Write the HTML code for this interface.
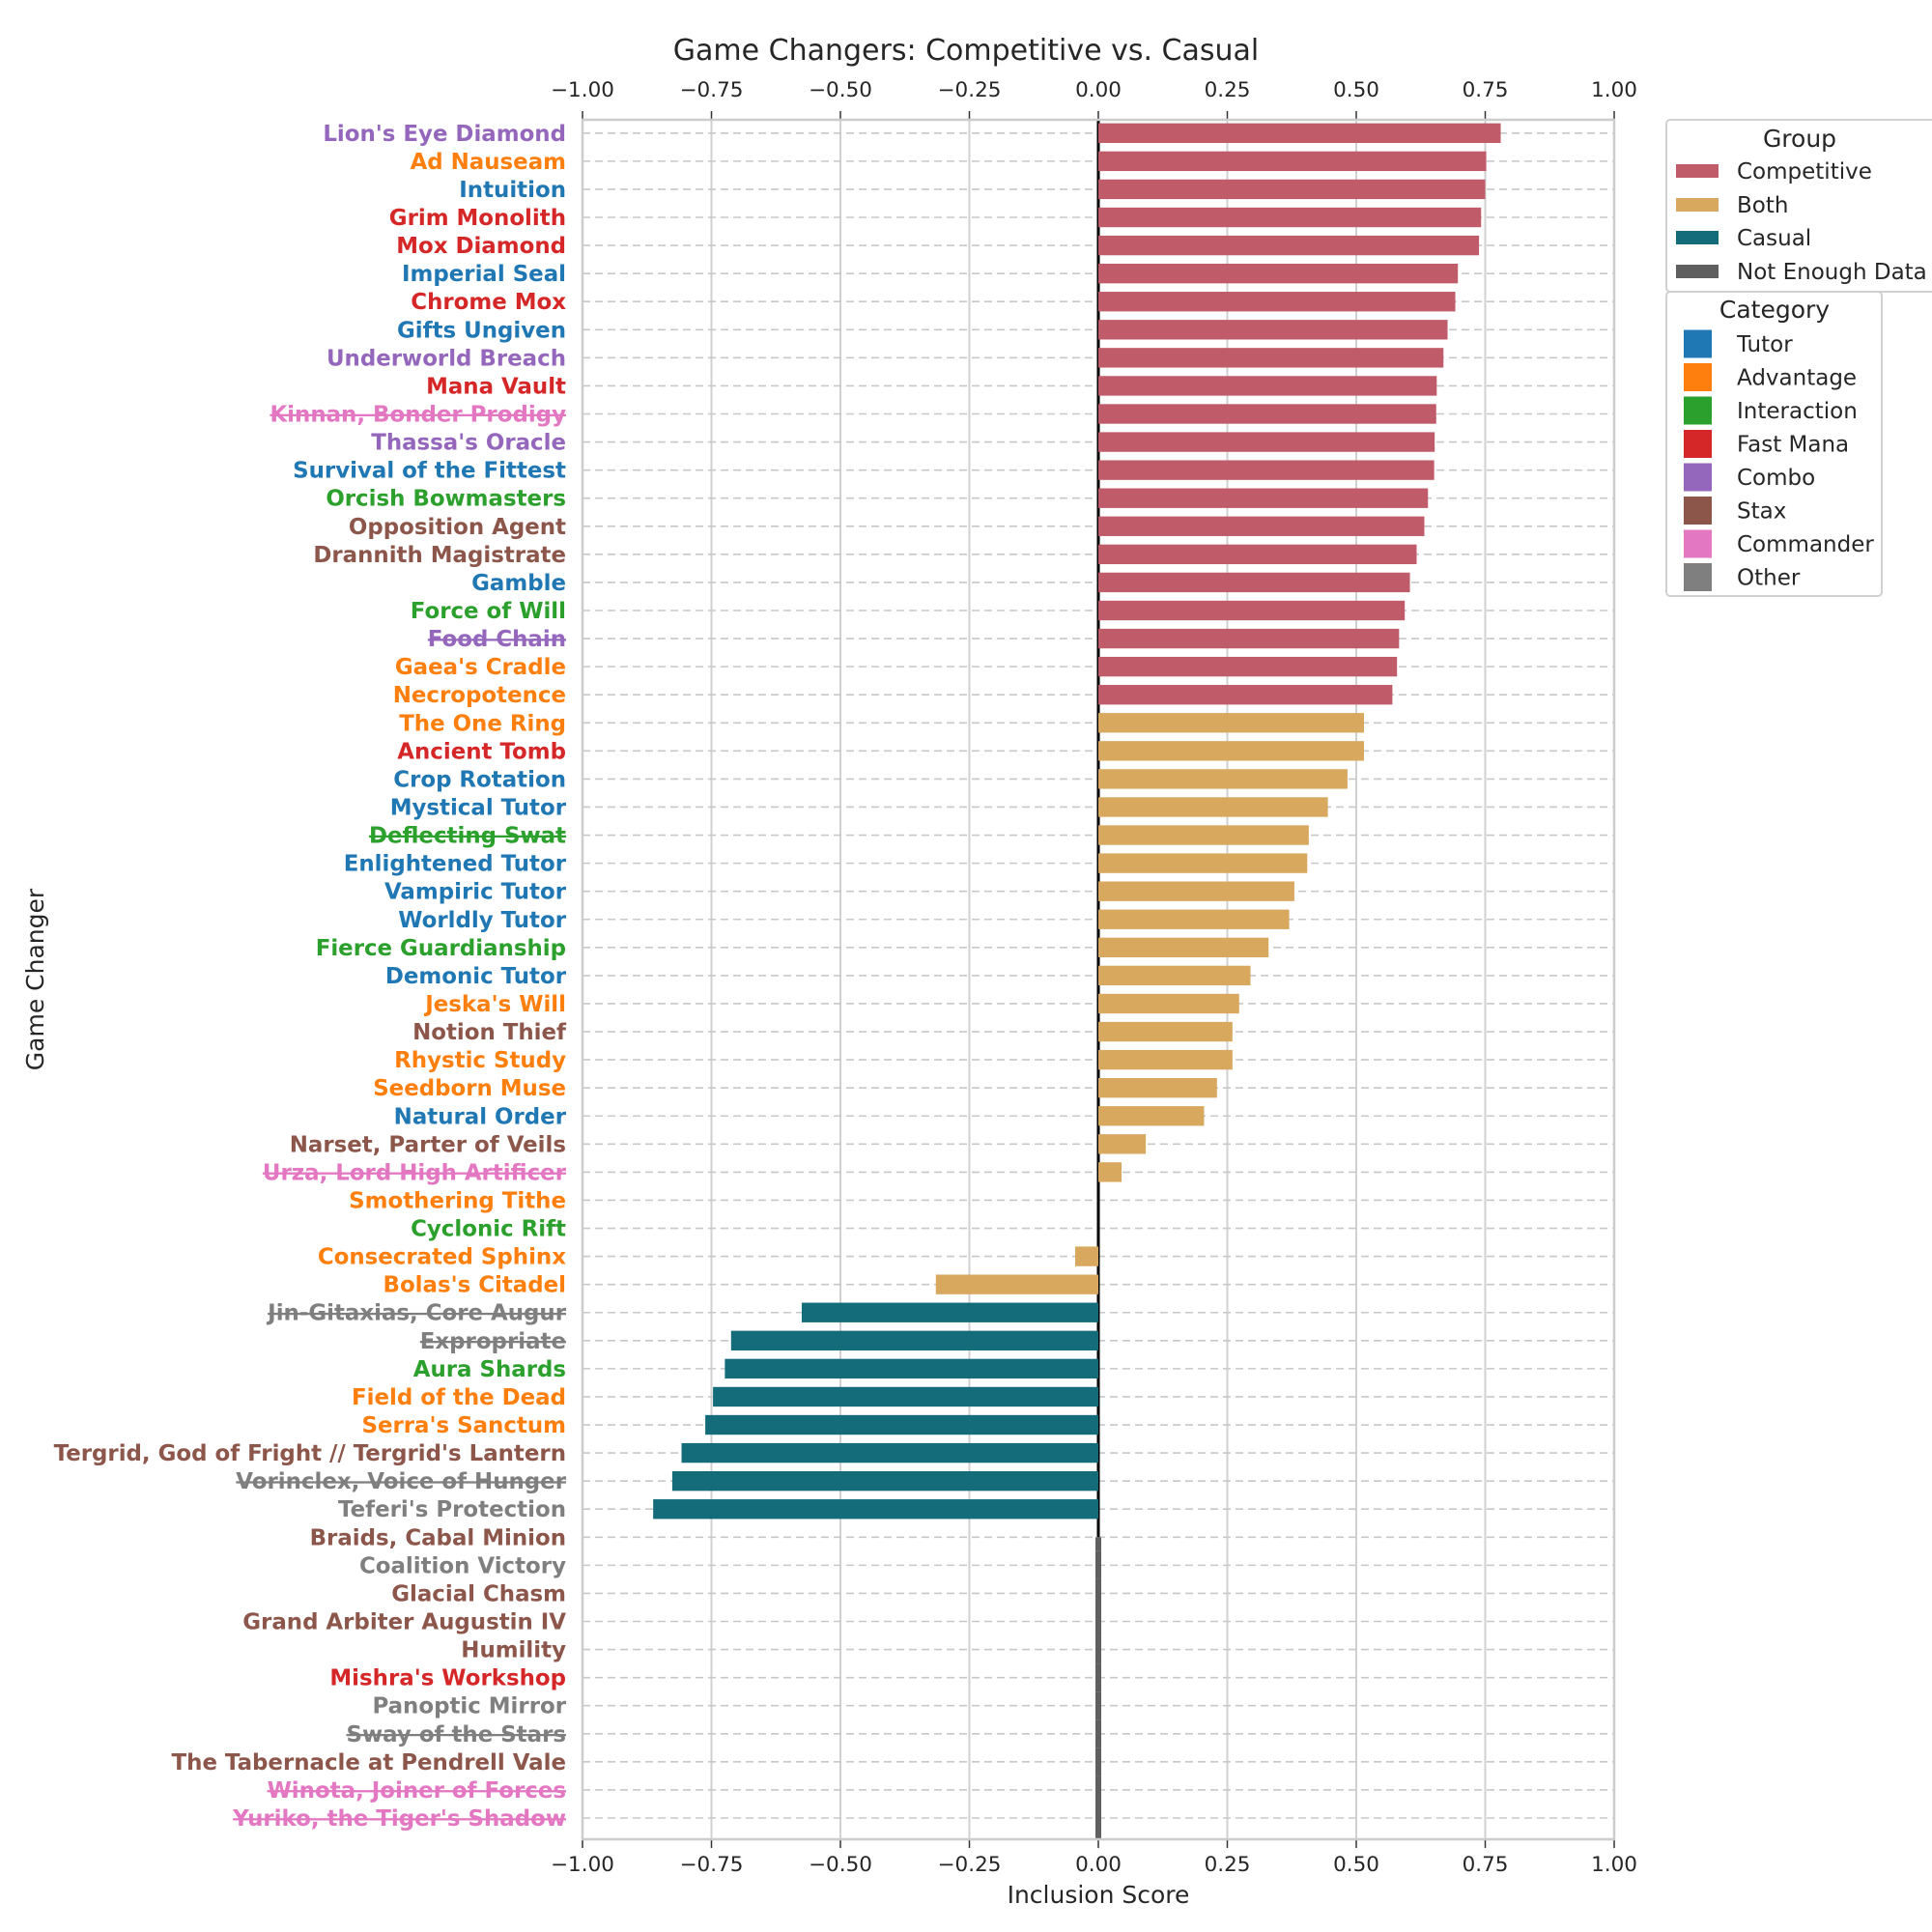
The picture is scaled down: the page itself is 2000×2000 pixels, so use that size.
<!DOCTYPE html>
<html><head><meta charset="utf-8"><style>
body{margin:0;background:#fff}
svg{display:block;font-family:"DejaVu Sans","Liberation Sans",sans-serif}
</style></head><body>
<svg id="chart" width="2000" height="2000" viewBox="0 0 2000 2000" xmlns="http://www.w3.org/2000/svg">
<rect width="2000" height="2000" fill="#fff"/>
<text x="1000" y="62" font-size="30" text-anchor="middle" fill="#262626">Game Changers: Competitive vs. Casual</text>
<text x="1137" y="1970" font-size="25" text-anchor="middle" fill="#262626">Inclusion Score</text>
<text x="0" y="0" font-size="25" text-anchor="middle" fill="#262626" transform="translate(45,1014) rotate(-90)">Game Changer</text>
<g id="plot"></g>
<g id="legend">
 <rect x="1725" y="124" width="300" height="178" rx="4" fill="#fff" stroke="#d0d0d0" stroke-width="2"/>
 <text x="1863" y="152" font-size="25" text-anchor="middle" fill="#262626">Group</text>
 <rect x="1735" y="170" width="44" height="14" fill="#c05b69"/>
 <text x="1798" y="185" font-size="23" fill="#262626">Competitive</text>
 <rect x="1735" y="205" width="44" height="14" fill="#d9a85f"/>
 <text x="1798" y="220" font-size="23" fill="#262626">Both</text>
 <rect x="1735" y="239" width="44" height="14" fill="#146c7a"/>
 <text x="1798" y="254" font-size="23" fill="#262626">Casual</text>
 <rect x="1735" y="274" width="44" height="14" fill="#5f5f5f"/>
 <text x="1798" y="289" font-size="23" fill="#262626">Not Enough Data</text>
 <rect x="1725" y="302" width="223" height="315" rx="4" fill="#fff" stroke="#d0d0d0" stroke-width="2"/>
 <text x="1837" y="329" font-size="25" text-anchor="middle" fill="#262626">Category</text>
 <g id="catleg"></g>
</g>
</svg>
<script>
const names=["Lion's Eye Diamond","Ad Nauseam","Intuition","Grim Monolith","Mox Diamond","Imperial Seal","Chrome Mox","Gifts Ungiven","Underworld Breach","Mana Vault","Kinnan, Bonder Prodigy","Thassa's Oracle","Survival of the Fittest","Orcish Bowmasters","Opposition Agent","Drannith Magistrate","Gamble","Force of Will","Food Chain","Gaea's Cradle","Necropotence","The One Ring","Ancient Tomb","Crop Rotation","Mystical Tutor","Deflecting Swat","Enlightened Tutor","Vampiric Tutor","Worldly Tutor","Fierce Guardianship","Demonic Tutor","Jeska's Will","Notion Thief","Rhystic Study","Seedborn Muse","Natural Order","Narset, Parter of Veils","Urza, Lord High Artificer","Smothering Tithe","Cyclonic Rift","Consecrated Sphinx","Bolas's Citadel","Jin-Gitaxias, Core Augur","Expropriate","Aura Shards","Field of the Dead","Serra's Sanctum","Tergrid, God of Fright // Tergrid's Lantern","Vorinclex, Voice of Hunger","Teferi's Protection","Braids, Cabal Minion","Coalition Victory","Glacial Chasm","Grand Arbiter Augustin IV","Humility","Mishra's Workshop","Panoptic Mirror","Sway of the Stars","The Tabernacle at Pendrell Vale","Winota, Joiner of Forces","Yuriko, the Tiger's Shadow"];
const scores=[0.78,0.752,0.75,0.742,0.738,0.697,0.692,0.677,0.669,0.656,0.655,0.652,0.651,0.639,0.632,0.617,0.604,0.594,0.583,0.579,0.57,0.515,0.515,0.483,0.445,0.408,0.405,0.38,0.37,0.33,0.295,0.273,0.26,0.26,0.23,0.205,0.092,0.045,0,0,-0.045,-0.315,-0.575,-0.712,-0.724,-0.747,-0.762,-0.808,-0.826,-0.863,0,0,0,0,0,0,0,0,0,0,0];
const groups=["C","C","C","C","C","C","C","C","C","C","C","C","C","C","C","C","C","C","C","C","C","B","B","B","B","B","B","B","B","B","B","B","B","B","B","B","B","B","B","B","B","B","K","K","K","K","K","K","K","K","N","N","N","N","N","N","N","N","N","N","N"];
const cats=["Combo","Advantage","Tutor","Fast Mana","Fast Mana","Tutor","Fast Mana","Tutor","Combo","Fast Mana","Commander","Combo","Tutor","Interaction","Stax","Stax","Tutor","Interaction","Combo","Advantage","Advantage","Advantage","Fast Mana","Tutor","Tutor","Interaction","Tutor","Tutor","Tutor","Interaction","Tutor","Advantage","Stax","Advantage","Advantage","Tutor","Stax","Commander","Advantage","Interaction","Advantage","Advantage","Other","Other","Interaction","Advantage","Advantage","Stax","Other","Other","Stax","Other","Stax","Stax","Stax","Fast Mana","Other","Other","Stax","Commander","Commander"];
const struck=[0,0,0,0,0,0,0,0,0,0,1,0,0,0,0,0,0,0,1,0,0,0,0,0,0,1,0,0,0,0,0,0,0,0,0,0,0,1,0,0,0,0,1,1,0,0,0,0,1,0,0,0,0,0,0,0,0,1,0,1,1];
const xTicks=[-1,-0.75,-0.5,-0.25,0,0.25,0.5,0.75,1];
const xTickLabels=["\u22121.00","\u22120.75","\u22120.50","\u22120.25","0.00","0.25","0.50","0.75","1.00"];
const catNames=["Tutor","Advantage","Interaction","Fast Mana","Combo","Stax","Commander","Other"];
const catColors={"Tutor":"#1f77b4","Advantage":"#ff7f0e","Interaction":"#2ca02c","Fast Mana":"#d62728","Combo":"#9467bd","Stax":"#8c564b","Commander":"#e377c2","Other":"#7f7f7f"};
const groupColors={C:"#c05b69",B:"#d9a85f",K:"#146c7a",N:"#5f5f5f"};

const L=603,R=1671,T=124,B=1904;
const xs=v=>L+(v+1)/2*(R-L);
const rowH=29.07;
const ys=i=>137.8+i*rowH;
const NS="http://www.w3.org/2000/svg";
const plot=document.getElementById('plot');
function mk(tag,attrs,parent){const e=document.createElementNS(NS,tag);for(const k in attrs)e.setAttribute(k,attrs[k]);(parent||plot).appendChild(e);return e;}

xTicks.forEach((t,i)=>{
 const g=mk('line',{x1:xs(t),x2:xs(t),y1:T,y2:B,stroke:'#d0d0d0','stroke-width':2});
 
 
 const tt=mk('line',{x1:xs(t),x2:xs(t),y1:T-9,y2:T,stroke:'#333','stroke-width':1.5});
 
 
 const tb=mk('line',{x1:xs(t),x2:xs(t),y1:B,y2:B+9,stroke:'#333','stroke-width':1.5});
 
 
 const l1=mk('text',{x:xs(t),y:100,'font-size':21.5,'text-anchor':'middle',fill:'#262626'});l1.textContent=xTickLabels[i];
 
 
 const l2=mk('text',{x:xs(t),y:1937,'font-size':21.5,'text-anchor':'middle',fill:'#262626'});l2.textContent=xTickLabels[i];
 
 
});
names.forEach((n,i)=>{
 const g=mk('line',{x1:L,x2:R,y1:ys(i),y2:ys(i),stroke:'#c8c8c8','stroke-width':1.6,'stroke-dasharray':'8 5'});
 
 
});
const zl=mk('line',{x1:xs(0),x2:xs(0),y1:T,y2:ys(50),stroke:'#000','stroke-width':3});


const bh=rowH*0.7;
names.forEach((n,i)=>{
 const v=scores[i],g=groups[i];
 let r;
 if(g==='N'){
  const y0=(i===50)?ys(i):ys(i)-rowH/2;
  const y1=(i===60)?B:ys(i)+rowH/2;
  r=mk('rect',{x:xs(0)-3,y:y0,width:6,height:y1-y0,fill:groupColors[g]});
 } else {
  const x0=Math.min(xs(0),xs(v)),w=Math.abs(xs(v)-xs(0));
  r=mk('rect',{x:x0,y:ys(i)-bh/2,width:w,height:bh,fill:groupColors[g]});
 }
 
 
 const t=mk('text',{x:L-17,y:ys(i)+8,'font-size':22.9,'font-weight':'bold','text-anchor':'end',fill:catColors[cats[i]]});
 if(struck[i])t.setAttribute('text-decoration','line-through');
 t.textContent=n;
 
 
});
const fr=mk('rect',{x:L,y:T,width:R-L,height:B-T,fill:'none',stroke:'#cccccc','stroke-width':2.5});


const cl=document.getElementById('catleg');
catNames.forEach((c,i)=>{
 const y=356+i*34.5;
 const s=mk('rect',{x:1743,y:y-14.5,width:29,height:29,fill:catColors[c]},cl);
 
 
 const t=mk('text',{x:1798,y:y+8,'font-size':23,fill:'#262626'},cl);t.textContent=c;
 
 
});
</script>
</body></html>
